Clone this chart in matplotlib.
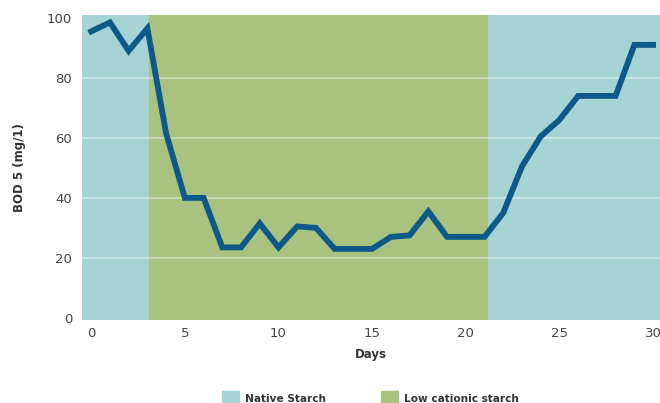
import matplotlib
matplotlib.use('Agg')
import matplotlib.pyplot as plt
from matplotlib.patches import Patch

# BOD 5 readings per day
days = list(range(0, 31))
bod5 = [95.5, 98.5, 89, 96.5, 61.5, 40, 40, 23.5, 23.5, 31.5, 23.5, 30.5, 30, 23, 23,
        23, 27, 27.5, 35.5, 27, 27, 27, 35, 50.5, 60.5, 66, 74, 74, 74, 91, 91]

# treatment periods (start, end, label)
periods = [(-0.5, 3.1, 'Native Starch'),
           (3.1, 21.2, 'Low cationic starch'),
           (21.2, 31, 'Native Starch')]
period_colors = {'Native Starch': '#a6d3d4', 'Low cationic starch': '#aac27f'}

yticks = [0, 20, 40, 60, 80, 100]
xticks = [0, 5, 10, 15, 20, 25, 30]

fig = plt.figure(figsize=(6.6, 4.03), dpi=100)
ax = fig.add_axes([0.124, 0.206, 0.876, 0.757])

for start, end, name in periods:
    ax.axvspan(start, end, color=period_colors[name], lw=0, zorder=0)

for y in yticks[1:-1]:
    ax.axhline(y, color='white', lw=1.2, alpha=0.45, zorder=1)

ax.plot(days, bod5, color='#0d5a8a', lw=4.2, solid_joinstyle='miter', zorder=3)

ax.set_xlim(-0.5, 30.37)
ax.set_ylim(-0.7, 101)
ax.set_xticks(xticks)
ax.set_yticks(yticks)
ax.tick_params(axis='x', length=0, labelsize=9.5, colors='#444444', pad=5)
ax.tick_params(axis='y', length=0, labelsize=9.5, colors='#444444', pad=7)
for s in ax.spines.values():
    s.set_visible(False)

ax.set_xlabel('Days', fontsize=8.5, fontweight='bold', color='#333333', labelpad=6)
ax.set_ylabel('BOD 5 (mg/1)', fontsize=8.5, fontweight='bold', color='#333333', labelpad=15)

handles = [Patch(color=period_colors['Native Starch'], label='Native Starch'),
           Patch(color=period_colors['Low cationic starch'], label='Low cationic starch')]
fig.legend(handles=handles, loc='center', bbox_to_anchor=(0.561, 0.012), ncol=2,
           frameon=False, handlelength=1.6, handleheight=1.6, handletextpad=0.6,
           columnspacing=5.2, prop={'size': 7.6, 'weight': 'bold'}, labelcolor='#333333')

fig.savefig('out.png', dpi=100)
